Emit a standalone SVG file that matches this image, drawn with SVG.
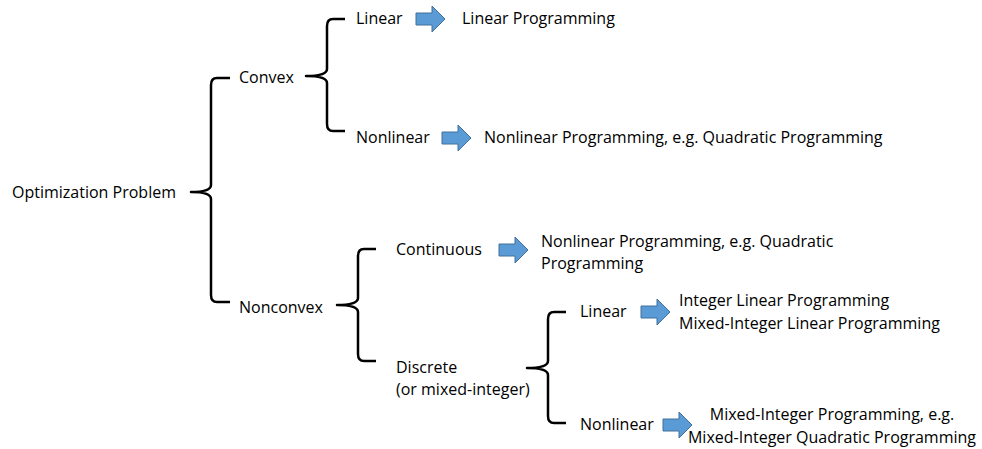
<svg xmlns="http://www.w3.org/2000/svg" width="982" height="449" viewBox="0 0 982 449">
<defs>
<style>
text{font-family:"Open Sans","Liberation Sans",sans-serif;font-size:16px;fill:#000;dominant-baseline:central}
.brace{fill:none;stroke:#000;stroke-width:2.5;stroke-linejoin:round}
.arr{fill:#5b9bd5;stroke:#41719c;stroke-width:1}
</style>
<path id="blk" d="M0,-6 H16 V-13 L29,0 L16,13 V6 H0 Z"/>
</defs>
<rect width="982" height="449" fill="#fff"/>
<g id="connectors">
<path class="brace" d="M230,78 H217 Q211,78 211,85 V185 Q211,192 191,192 Q211,192 211,199 V295 Q211,302 217,302 H230"/>
<path class="brace" d="M345,19 H333 Q327,19 327,26 V69 Q327,76 306,76 Q327,76 327,83 V124 Q327,131 333,131 H345"/>
<path class="brace" d="M376,249 H364 Q358,249 358,256 V298 Q358,305 337,305 Q358,305 358,312 V354 Q358,361 364,361 H376"/>
<path class="brace" d="M566,312 H554 Q548,312 548,319 V361 Q548,368 527,368 Q548,368 548,375 V416 Q548,423 554,423 H566"/>
<use href="#blk" class="arr" x="416" y="19"/>
<use href="#blk" class="arr" x="442" y="138"/>
<use href="#blk" class="arr" x="499" y="250"/>
<use href="#blk" class="arr" x="641" y="312"/>
<use href="#blk" class="arr" x="663" y="425"/>
</g>
<g id="n-root"><text x="12" y="192">Optimization Problem</text></g>
<g id="n-convex"><text x="239" y="77">Convex</text></g>
<g id="n-nonconvex"><text x="239" y="307">Nonconvex</text></g>
<g id="n-linear1"><text x="356" y="18">Linear</text></g>
<g id="n-lp"><text x="462" y="18">Linear Programming</text></g>
<g id="n-nonlinear1"><text x="356" y="137">Nonlinear</text></g>
<g id="n-nlp"><text x="484" y="137">Nonlinear Programming, e.g. Quadratic Programming</text></g>
<g id="n-continuous"><text x="396" y="249">Continuous</text></g>
<g id="n-nlp2"><text x="541" y="241">Nonlinear Programming, e.g. Quadratic</text><text x="541" y="263">Programming</text></g>
<g id="n-discrete"><text x="396" y="367">Discrete</text><text x="396" y="389">(or mixed-integer)</text></g>
<g id="n-linear2"><text x="580" y="311">Linear</text></g>
<g id="n-ilp"><text x="679" y="300">Integer Linear Programming</text><text x="679" y="323">Mixed-Integer Linear Programming</text></g>
<g id="n-nonlinear2"><text x="580" y="424">Nonlinear</text></g>
<g id="n-miqp"><text x="832" y="414" text-anchor="middle">Mixed-Integer Programming, e.g.</text><text x="832" y="437" text-anchor="middle">Mixed-Integer Quadratic Programming</text></g>
</svg>
